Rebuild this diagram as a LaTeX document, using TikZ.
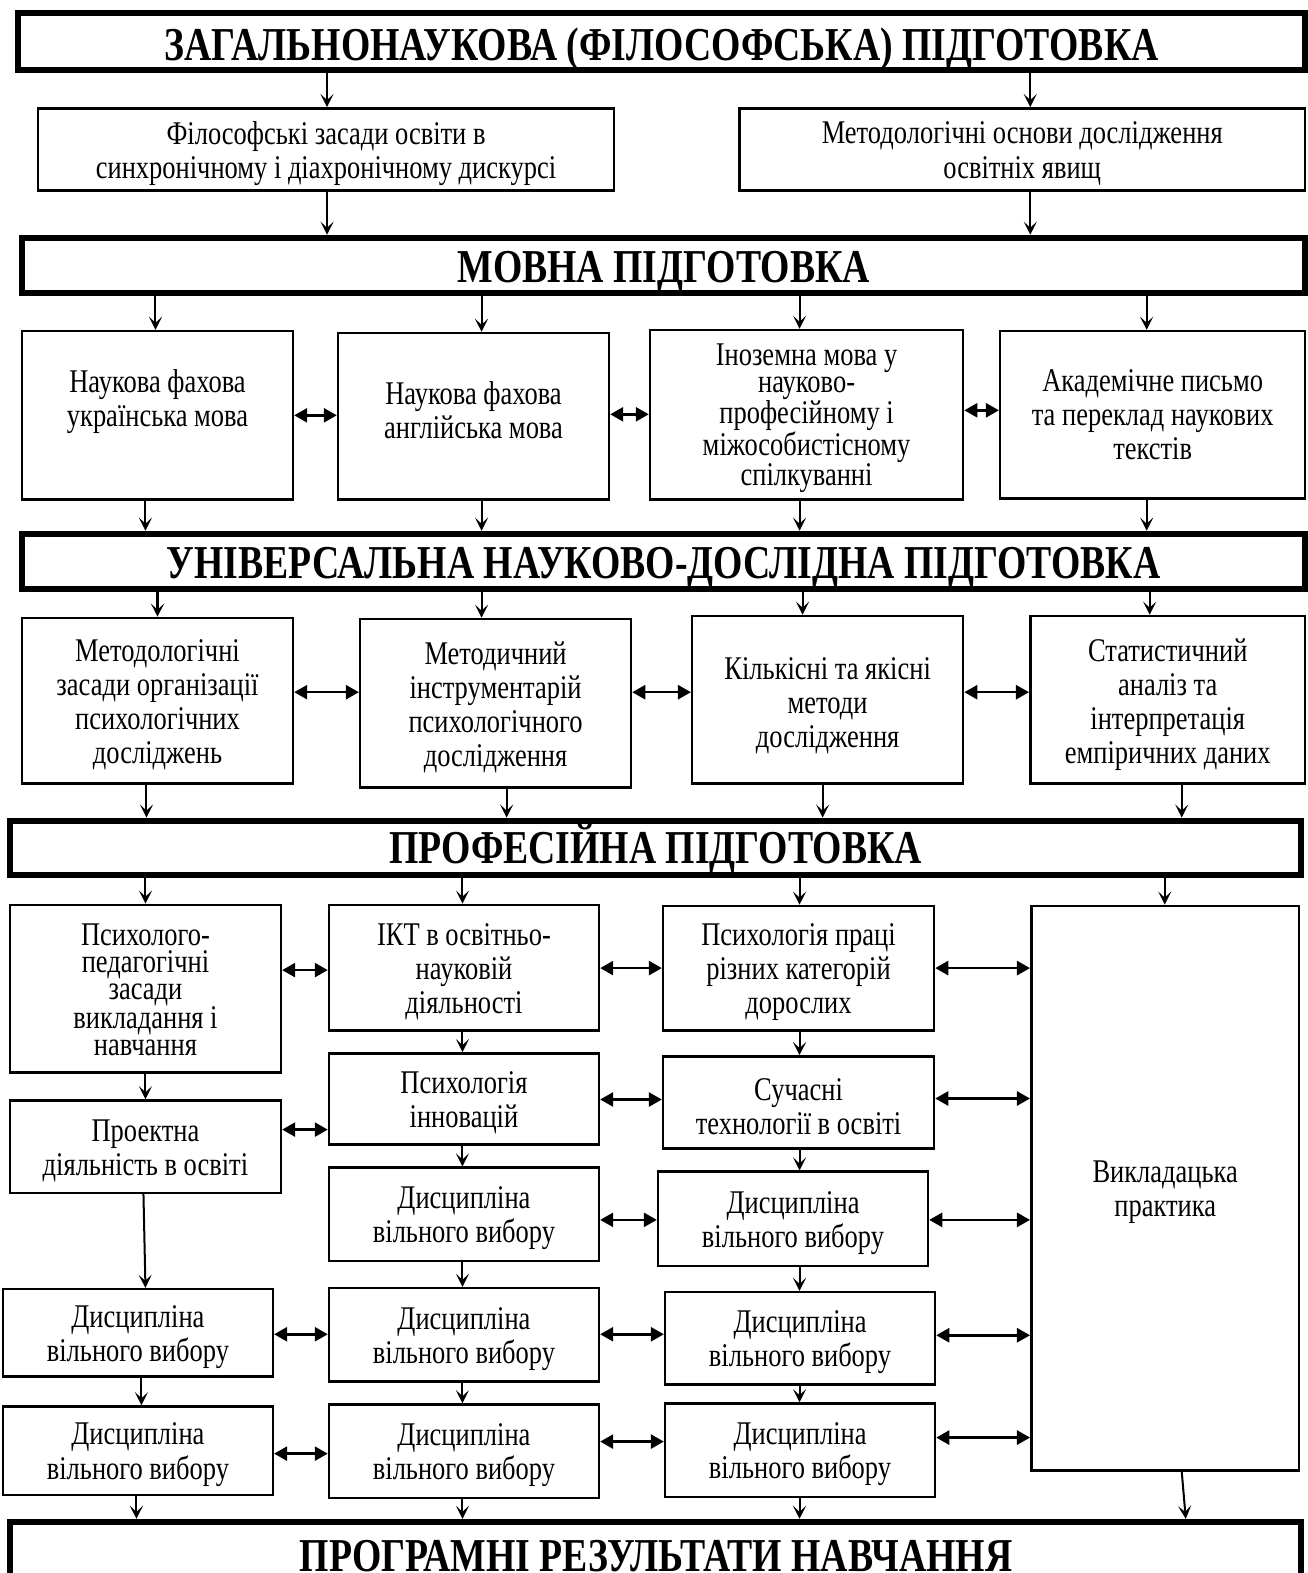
\documentclass[tikz,border=0pt]{standalone}
\usepackage{fontspec}
\setmainfont[FakeStretch=0.8]{Liberation Serif}
\usetikzlibrary{arrows.meta}
\tikzset{
  frame/.style={draw, line width=2.5pt, inner sep=0pt},
  txt/.style={inner sep=0pt, align=center, font=\fontsize{33}{34}\selectfont},
  tighttxt/.style={txt, font=\fontsize{33}{27}\selectfont},
  hdr/.style={draw, line width=6pt, inner sep=0pt},
  hdrtxt/.style={inner sep=0pt, text height=31pt, text depth=0pt,
    font=\fontsize{47}{50}\selectfont\bfseries},
  down/.style={line width=2pt, -{Stealth[length=13pt,width=13pt,inset=6pt]}},
  both/.style={line width=2.5pt, {Triangle[length=13pt,width=14pt]}-{Triangle[length=13pt,width=14pt]}},
}
% box from (x1,y1) to (x2,y2): \Bx[text style]{x1}{y1}{x2}{y2}{name}{text shift}{text}
\newcommand\Bx[8][txt]{%
  \node[frame, minimum width={(#4-#2)*1pt}, minimum height={(#5-#3)*1pt}] (#6) at ({(#2+#4)/2},{(#3+#5)/2}) {};
  \node[#1] (#6t) at ([yshift=-#7pt]#6.center) {#8};}
\newcommand\Hd[7]{%
  \node[hdr, minimum width={(#3-#1)*1pt}, minimum height={(#4-#2)*1pt}] (#5) at ({(#1+#3)/2},{(#2+#4)/2}) {};
  \node[hdrtxt] (#5t) at ([yshift=-#6pt]#5.center) {#7};}
\begin{document}
\begin{tikzpicture}[x=1pt,y=-1pt]
\useasboundingbox (0,0) rectangle (1303,1568);
% headers
\Hd{18}{13}{1301}{70}{h1}{3}{ЗАГАЛЬНОНАУКОВА (ФІЛОСОФСЬКА) ПІДГОТОВКА}
\Hd{22}{237}{1301}{292}{h2}{2}{МОВНА ПІДГОТОВКА}
\Hd{22}{532}{1301}{587}{h3}{2}{УНІВЕРСАЛЬНА НАУКОВО-ДОСЛІДНА ПІДГОТОВКА}
\Hd{10}{818}{1297}{872}{h4}{0}{ПРОФЕСІЙНА ПІДГОТОВКА}
\node[hdr, minimum width=1287pt, minimum height=103pt] (h5) at (653.5,1568.5) {};
\node[hdrtxt] (h5t) at (654,1551) {ПРОГРАМНІ РЕЗУЛЬТАТИ НАВЧАННЯ};
% row 1
\Bx{38}{108}{612}{190}{b1a}{4}{Філософські засади освіти в\\синхронічному і діахронічному дискурсі}
\Bx{737}{108}{1301}{190}{b1b}{4}{Методологічні основи дослідження\\освітніх явищ}
% row 2
\Bx{22}{330}{292}{498}{b2a}{-14}{Наукова фахова\\українська мова}
\Bx{337}{332}{607}{498}{b2b}{-6}{Наукова фахова\\англійська мова}
\Bx[tighttxt]{648}{329}{960}{498}{b2c}{3}{Іноземна мова у\\науково-\\професійному і\\міжособистісному\\спілкуванні}
\Bx{997}{330}{1301}{497}{b2d}{0}{Академічне письмо\\та переклад наукових\\текстів}
% row 3
\Bx{22}{616}{292}{781}{b3a}{4}{Методологічні\\засади організації\\психологічних\\досліджень}
\Bx{359}{617}{629}{785}{b3b}{4}{Методичний\\інструментарій\\психологічного\\дослідження}
\Bx{690}{614}{960}{781}{b3c}{6}{Кількісні та якісні\\методи\\дослідження}
\Bx{1027}{614}{1301}{781}{b3d}{5}{Статистичний\\аналіз та\\інтерпретація\\емпіричних даних}
% row 4
\Bx[tighttxt]{10}{902}{280}{1069}{a1}{1}{Психолого-\\педагогічні\\засади\\викладання і\\навчання}
\Bx{10}{1097}{280}{1189}{a2}{4}{Проектна\\діяльність в освіті}
\Bx{3}{1285}{272}{1372}{a3}{4}{Дисципліна\\вільного вибору}
\Bx{3}{1402}{272}{1490}{a4}{4}{Дисципліна\\вільного вибору}
\Bx{328}{902}{597}{1027}{c1b}{4}{ІКТ в освітньо-\\науковій\\діяльності}
\Bx{328}{1050}{597}{1141}{c2b}{4}{Психологія\\інновацій}
\Bx{328}{1164}{597}{1257}{c3b}{4}{Дисципліна\\вільного вибору}
\Bx{328}{1284}{597}{1377}{c4b}{4}{Дисципліна\\вільного вибору}
\Bx{328}{1400}{597}{1493}{c5b}{4}{Дисципліна\\вільного вибору}
\Bx{661}{903}{931}{1027}{d1}{4}{Психологія праці\\різних категорій\\дорослих}
\Bx{661}{1053}{931}{1145}{d2}{4}{Сучасні\\технології в освіті}
\Bx{656}{1168}{925}{1262}{d3}{4}{Дисципліна\\вільного вибору}
\Bx{663}{1288}{932}{1380}{d4}{4}{Дисципліна\\вільного вибору}
\Bx{663}{1399}{932}{1492}{d5}{4}{Дисципліна\\вільного вибору}
\Bx{1028}{903}{1295}{1466}{pr}{4}{Викладацька\\практика}
% down arrows
\draw[down] (326,0 |- h1.south) -- (326,0 |- b1a.north);
\draw[down] (1027,0 |- h1.south) -- (1027,0 |- b1b.north);
\draw[down] (326,0 |- b1a.south) -- (326,0 |- h2.north);
\draw[down] (1027,0 |- b1b.south) -- (1027,0 |- h2.north);
\draw[down] (155,0 |- h2.south) -- (155,0 |- b2a.north);
\draw[down] (480,0 |- h2.south) -- (480,0 |- b2b.north);
\draw[down] (797,0 |- h2.south) -- (797,0 |- b2c.north);
\draw[down] (1143,0 |- h2.south) -- (1143,0 |- b2d.north);
\draw[down] (145,0 |- b2a.south) -- (145,0 |- h3.north);
\draw[down] (480,0 |- b2b.south) -- (480,0 |- h3.north);
\draw[down] (797,0 |- b2c.south) -- (797,0 |- h3.north);
\draw[down] (1143,0 |- b2d.south) -- (1143,0 |- h3.north);
\draw[down] (157,0 |- h3.south) -- (157,0 |- b3a.north);
\draw[down] (480,0 |- h3.south) -- (480,0 |- b3b.north);
\draw[down] (800,0 |- h3.south) -- (800,0 |- b3c.north);
\draw[down] (1146,0 |- h3.south) -- (1146,0 |- b3d.north);
\draw[down] (146,0 |- b3a.south) -- (146,0 |- h4.north);
\draw[down] (505,0 |- b3b.south) -- (505,0 |- h4.north);
\draw[down] (820,0 |- b3c.south) -- (820,0 |- h4.north);
\draw[down] (1178,0 |- b3d.south) -- (1178,0 |- h4.north);
\draw[down] (145,0 |- h4.south) -- (145,0 |- a1.north);
\draw[down] (461,0 |- h4.south) -- (461,0 |- c1b.north);
\draw[down] (797,0 |- h4.south) -- (797,0 |- d1.north);
\draw[down] (1161,0 |- h4.south) -- (1161,0 |- pr.north);
\draw[down] (145,0 |- a1.south) -- (145,0 |- a2.north);
\draw[down] (143,0 |- a2.south) -- (145,0 |- a3.north);
\draw[down] (141,0 |- a3.south) -- (141,0 |- a4.north);
\draw[down] (136,0 |- a4.south) -- (136,0 |- h5.north);
\draw[down] (461,0 |- c1b.south) -- (461,0 |- c2b.north);
\draw[down] (461,0 |- c2b.south) -- (461,0 |- c3b.north);
\draw[down] (461,0 |- c3b.south) -- (461,0 |- c4b.north);
\draw[down] (461,0 |- c4b.south) -- (461,0 |- c5b.north);
\draw[down] (461,0 |- c5b.south) -- (461,0 |- h5.north);
\draw[down] (797,0 |- d1.south) -- (797,0 |- d2.north);
\draw[down] (797,0 |- d2.south) -- (797,0 |- d3.north);
\draw[down] (797,0 |- d3.south) -- (797,0 |- d4.north);
\draw[down] (797,0 |- d4.south) -- (797,0 |- d5.north);
\draw[down] (797,0 |- d5.south) -- (797,0 |- h5.north);
\draw[down] (1178,0 |- pr.south) -- (1182,0 |- h5.north);
% double arrows
\draw[both] (b2a.east |- 0,414) -- (b2b.west |- 0,414);
\draw[both] (b2b.east |- 0,413) -- (b2c.west |- 0,413);
\draw[both] (b2c.east |- 0,409) -- (b2d.west |- 0,409);
\draw[both] (b3a.east |- 0,690) -- (b3b.west |- 0,690);
\draw[both] (b3b.east |- 0,690) -- (b3c.west |- 0,690);
\draw[both] (b3c.east |- 0,690) -- (b3d.west |- 0,690);
\draw[both] (a1.east |- 0,967) -- (c1b.west |- 0,967);
\draw[both] (a2.east |- 0,1126) -- (c2b.west |- 0,1126);
\draw[both] (a3.east |- 0,1330) -- (c4b.west |- 0,1330);
\draw[both] (a4.east |- 0,1449) -- (c5b.west |- 0,1449);
\draw[both] (c1b.east |- 0,965) -- (d1.west |- 0,965);
\draw[both] (c2b.east |- 0,1096) -- (d2.west |- 0,1096);
\draw[both] (c3b.east |- 0,1216) -- (d3.west |- 0,1216);
\draw[both] (c4b.east |- 0,1330) -- (d4.west |- 0,1330);
\draw[both] (c5b.east |- 0,1437) -- (d5.west |- 0,1437);
\draw[both] (d1.east |- 0,965) -- (pr.west |- 0,965);
\draw[both] (d2.east |- 0,1095) -- (pr.west |- 0,1095);
\draw[both] (d3.east |- 0,1216) -- (pr.west |- 0,1216);
\draw[both] (d4.east |- 0,1331) -- (pr.west |- 0,1331);
\draw[both] (d5.east |- 0,1433) -- (pr.west |- 0,1433);
\end{tikzpicture}
\end{document}
